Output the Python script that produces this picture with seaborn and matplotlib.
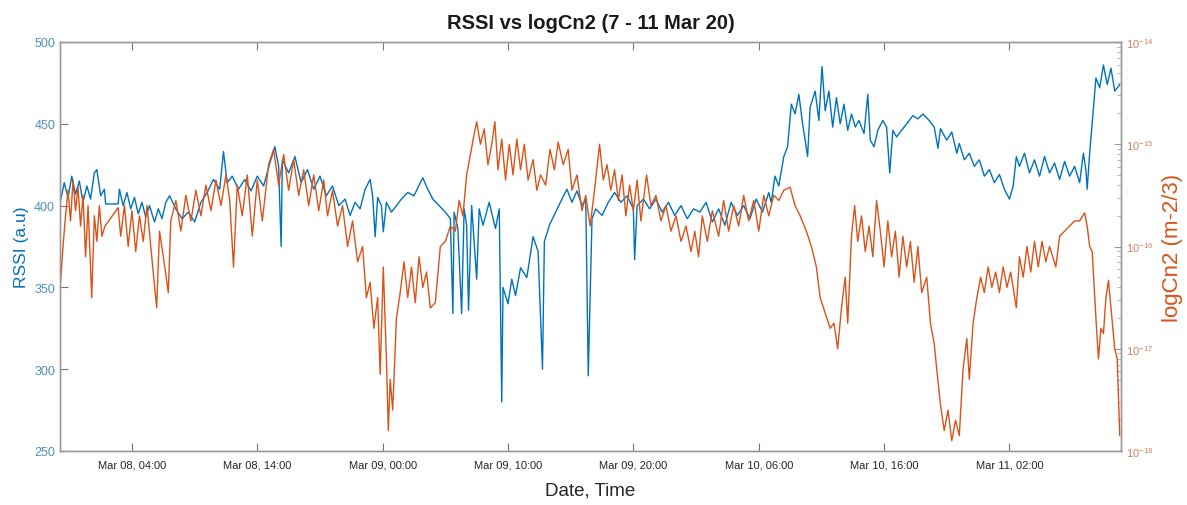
import matplotlib
matplotlib.use("Agg")
import matplotlib.pyplot as plt
from matplotlib.ticker import FixedLocator, NullFormatter
import numpy as np
import pandas as pd
import seaborn as sns

# ---------------------------------------------------------------------------
# Data: hours after 2020-03-08 00:00 and the measured values
# ---------------------------------------------------------------------------
rssi_samples = [
    (-1.7, 403), (-1.4, 414), (-1.1, 405), (-0.8, 418), (-0.5, 407), (-0.2, 415),
    (0.1, 402), (0.4, 412), (0.7, 404), (1.0, 420), (1.2, 422), (1.5, 406),
    (1.8, 410), (1.9, 401), (2.9, 401), (3.0, 410), (3.3, 400), (3.6, 408),
    (3.9, 398), (4.2, 405), (4.5, 395), (4.8, 402), (5.1, 393), (5.4, 400),
    (5.8, 390), (6.1, 398), (6.4, 392), (6.7, 402), (7.0, 406), (7.5, 398),
    (8.0, 392), (8.5, 396), (9.0, 390), (9.5, 402), (10.0, 408), (10.5, 416),
    (11.0, 410), (11.3, 433), (11.6, 414), (12.0, 418), (12.5, 410), (13.0, 416),
    (13.5, 409), (14.0, 418), (14.5, 412), (15.0, 426), (15.4, 436), (15.7, 424),
    (15.9, 375), (16.0, 428), (16.5, 420), (17.0, 430), (17.5, 414), (18.0, 422),
    (18.5, 410), (19.0, 418), (19.5, 406), (20.0, 412), (20.5, 400), (21.0, 404),
    (21.4, 394), (21.8, 402), (22.2, 398), (22.6, 410), (23.0, 416), (23.2, 406),
    (23.4, 381), (23.6, 405), (23.9, 400), (24.05, 384), (24.3, 402), (24.7, 396),
    (25.1, 400), (25.5, 404), (26.0, 408), (26.5, 406), (27.0, 414), (27.2, 417),
    (27.6, 410), (28.0, 404), (28.5, 400), (29.0, 396), (29.4, 392), (29.6, 334),
    (29.7, 396), (30.0, 386), (30.3, 334), (30.5, 398), (30.7, 388), (30.85, 336),
    (31.1, 400), (31.5, 355), (31.7, 398), (32.0, 388), (32.5, 402), (33.0, 386),
    (33.3, 398), (33.5, 280), (33.6, 350), (34.0, 340), (34.3, 355), (34.6, 345),
    (35.0, 362), (35.5, 356), (36.0, 381), (36.4, 372), (36.75, 300), (36.9, 378),
    (37.3, 388), (37.8, 396), (38.3, 404), (38.7, 410), (39.1, 402), (39.5, 409),
    (39.9, 400), (40.2, 404), (40.4, 296), (40.7, 392), (41.0, 398), (41.5, 394),
    (42.0, 402), (42.5, 408), (43.0, 402), (43.5, 406), (44.0, 398), (44.1, 367),
    (44.3, 400), (44.8, 404), (45.3, 398), (45.8, 404), (46.3, 396), (46.8, 402),
    (47.3, 394), (47.8, 400), (48.3, 392), (48.8, 398), (49.3, 396), (49.8, 402),
    (50.3, 390), (50.8, 398), (51.3, 388), (51.8, 402), (52.3, 394), (52.8, 400),
    (53.3, 392), (53.8, 404), (54.3, 396), (54.8, 408), (55.0, 402), (55.3, 418),
    (55.6, 412), (56.0, 430), (56.3, 436), (56.6, 462), (56.9, 456), (57.2, 468),
    (57.5, 450), (57.9, 430), (58.1, 460), (58.5, 470), (58.8, 452), (59.05, 485),
    (59.3, 458), (59.6, 470), (59.9, 448), (60.2, 466), (60.5, 450), (60.8, 462),
    (61.1, 446), (61.4, 456), (61.7, 448), (62.0, 452), (62.4, 444), (62.7, 468),
    (62.9, 440), (63.2, 436), (63.5, 446), (63.9, 452), (64.2, 448), (64.45, 420),
    (64.7, 446), (65.0, 442), (65.4, 446), (65.8, 450), (66.3, 455), (66.7, 453),
    (67.1, 456), (67.6, 452), (68.0, 448), (68.3, 435), (68.5, 447), (69.0, 440),
    (69.4, 445), (69.8, 432), (70.0, 438), (70.4, 428), (70.8, 432), (71.2, 424),
    (71.6, 428), (72.0, 418), (72.4, 422), (72.8, 414), (73.2, 419), (73.6, 410),
    (74.0, 404), (74.3, 412), (74.55, 430), (74.8, 424), (75.2, 432), (75.6, 420),
    (76.0, 428), (76.4, 418), (76.8, 430), (77.2, 420), (77.6, 426), (78.0, 416),
    (78.4, 427), (78.8, 418), (79.2, 424), (79.6, 414), (79.9, 432), (80.1, 422),
    (80.2, 410), (80.4, 432), (80.7, 460), (80.9, 478), (81.2, 472), (81.5, 486),
    (81.8, 474), (82.1, 484), (82.4, 470), (82.8, 474),
]

# Cn2 stored as log10 of m^-2/3
cn2_samples = [
    (-1.7, -16.35), (-1.5, -16.0), (-1.3, -15.7), (-1.1, -15.45), (-0.9, -15.75),
    (-0.7, -15.35), (-0.5, -15.65), (-0.3, -15.42), (-0.1, -15.8), (0.1, -15.5),
    (0.3, -16.1), (0.5, -15.6), (0.79, -16.5), (1.0, -15.7), (1.2, -15.95),
    (1.4, -15.6), (1.6, -15.9), (1.85, -15.8), (2.9, -15.62), (3.1, -15.9),
    (3.4, -15.6), (3.7, -16.0), (4.0, -15.65), (4.3, -16.05), (4.6, -15.7),
    (4.9, -15.95), (5.2, -15.6), (5.5, -16.0), (5.97, -16.6), (6.2, -15.85),
    (6.5, -16.1), (6.9, -16.45), (7.1, -15.75), (7.5, -15.55), (7.9, -15.85),
    (8.3, -15.5), (8.7, -15.75), (9.1, -15.45), (9.5, -15.7), (9.9, -15.4),
    (10.3, -15.65), (10.7, -15.35), (11.1, -15.6), (11.5, -15.3), (11.8, -15.55),
    (12.1, -16.2), (12.4, -15.4), (12.8, -15.7), (13.2, -15.3), (13.6, -15.9),
    (14.0, -15.35), (14.4, -15.75), (14.9, -15.2), (15.3, -15.05), (15.7, -15.4),
    (16.1, -15.1), (16.5, -15.45), (16.9, -15.15), (17.3, -15.5), (17.7, -15.25),
    (18.1, -15.6), (18.5, -15.3), (18.9, -15.65), (19.3, -15.35), (19.6, -15.7),
    (20.0, -15.45), (20.4, -15.8), (20.8, -15.6), (21.2, -16.0), (21.6, -15.75),
    (22.0, -16.15), (22.4, -16.0), (22.7, -16.5), (23.0, -16.35), (23.3, -16.8),
    (23.6, -16.5), (23.8, -17.25), (24.05, -16.2), (24.3, -17.1), (24.45, -17.8),
    (24.6, -17.3), (24.8, -17.6), (25.1, -16.7), (25.4, -16.45), (25.7, -16.15),
    (26.0, -16.5), (26.3, -16.2), (26.6, -16.55), (26.9, -16.1), (27.2, -16.4),
    (27.5, -16.25), (27.8, -16.6), (28.2, -16.55), (28.6, -16.0), (29.0, -15.95),
    (29.4, -15.8), (29.8, -15.85), (30.1, -15.55), (30.4, -15.7), (30.7, -15.3),
    (31.0, -15.1), (31.3, -14.9), (31.5, -14.78), (31.8, -15.0), (32.1, -14.85),
    (32.4, -15.2), (32.7, -15.0), (32.95, -14.78), (33.2, -15.25), (33.5, -14.95),
    (33.8, -15.35), (34.1, -15.0), (34.4, -15.3), (34.7, -14.95), (35.0, -15.25),
    (35.3, -15.0), (35.6, -15.35), (36.0, -15.15), (36.3, -15.45), (36.6, -15.3),
    (37.0, -15.4), (37.35, -15.05), (37.7, -15.25), (38.0, -14.98), (38.4, -15.2),
    (38.8, -15.05), (39.1, -15.45), (39.5, -15.3), (39.9, -15.65), (40.2, -15.5),
    (40.55, -15.8), (40.9, -15.45), (41.3, -15.0), (41.6, -15.35), (41.9, -15.2),
    (42.2, -15.45), (42.5, -15.25), (42.8, -15.55), (43.1, -15.3), (43.4, -15.7),
    (43.7, -15.4), (44.0, -15.65), (44.3, -15.35), (44.6, -15.75), (45.05, -15.3),
    (45.4, -15.6), (45.8, -15.5), (46.2, -15.75), (46.6, -15.6), (47.0, -15.85),
    (47.4, -15.7), (47.8, -15.95), (48.2, -15.8), (48.6, -16.05), (48.9, -15.85),
    (49.2, -16.1), (49.5, -15.7), (49.9, -15.95), (50.3, -15.65), (50.8, -15.9),
    (51.2, -15.55), (51.6, -15.85), (52.0, -15.6), (52.4, -15.8), (52.8, -15.5),
    (53.2, -15.75), (53.6, -15.55), (54.0, -15.85), (54.4, -15.5), (54.8, -15.7),
    (55.2, -15.5), (55.6, -15.55), (56.0, -15.45), (56.5, -15.42), (56.9, -15.6),
    (57.3, -15.7), (57.8, -15.85), (58.2, -16.0), (58.6, -16.2), (58.9, -16.5),
    (59.3, -16.65), (59.7, -16.8), (60.0, -16.75), (60.3, -17.0), (60.6, -16.6),
    (60.9, -16.3), (61.1, -16.75), (61.4, -15.9), (61.65, -15.6), (61.9, -15.95),
    (62.2, -15.7), (62.5, -16.05), (62.8, -15.8), (63.1, -16.1), (63.4, -15.55),
    (63.7, -15.85), (64.0, -16.2), (64.3, -15.75), (64.6, -16.1), (64.9, -15.85),
    (65.2, -16.3), (65.5, -15.9), (65.8, -16.2), (66.1, -15.95), (66.4, -16.35),
    (66.7, -16.0), (67.0, -16.45), (67.4, -16.3), (67.7, -16.75), (68.0, -16.95),
    (68.2, -17.2), (68.5, -17.55), (68.8, -17.8), (69.1, -17.6), (69.4, -17.9),
    (69.7, -17.7), (70.0, -17.85), (70.3, -17.2), (70.6, -16.9), (70.8, -17.3),
    (71.1, -16.75), (71.4, -16.5), (71.7, -16.3), (72.0, -16.45), (72.3, -16.2),
    (72.6, -16.4), (72.9, -16.25), (73.2, -16.45), (73.5, -16.2), (73.8, -16.4),
    (74.1, -16.25), (74.55, -16.6), (74.8, -16.1), (75.1, -16.3), (75.4, -16.0),
    (75.7, -16.25), (76.0, -15.95), (76.3, -16.2), (76.6, -15.95), (76.9, -16.15),
    (77.2, -16.0), (77.7, -16.2), (78.0, -15.9), (78.4, -15.85), (78.8, -15.8),
    (79.2, -15.75), (79.6, -15.75), (80.0, -15.67), (80.2, -15.8), (80.4, -16.0),
    (80.6, -16.05), (80.9, -16.7), (81.1, -17.1), (81.3, -16.8), (81.5, -16.85),
    (81.7, -16.5), (81.9, -16.33), (82.1, -16.6), (82.4, -17.0), (82.6, -17.1),
    (82.8, -17.85),
]

x_tick_times = ["2020-03-08 04:00", "2020-03-08 14:00", "2020-03-09 00:00",
                "2020-03-09 10:00", "2020-03-09 20:00", "2020-03-10 06:00",
                "2020-03-10 16:00", "2020-03-11 02:00"]
x_tick_labels = ["Mar 08, 04:00", "Mar 08, 14:00", "Mar 09, 00:00", "Mar 09, 10:00",
                 "Mar 09, 20:00", "Mar 10, 06:00", "Mar 10, 16:00", "Mar 11, 02:00"]
rssi_ticks = [250, 300, 350, 400, 450, 500]
cn2_exponents = [-18, -17, -16, -15, -14]

BASE = pd.Timestamp("2020-03-08 00:00")
BLUE = "#0072BD"
ORANGE = "#D95319"

rssi_df = pd.DataFrame(rssi_samples, columns=["hours", "rssi"])
rssi_df["time"] = BASE + pd.to_timedelta(rssi_df["hours"], unit="h")
cn2_df = pd.DataFrame(cn2_samples, columns=["hours", "log_cn2"])
cn2_df["time"] = BASE + pd.to_timedelta(cn2_df["hours"], unit="h")
cn2_df["cn2"] = 10.0 ** cn2_df["log_cn2"]

# ---------------------------------------------------------------------------
sns.set_style("white")
plt.rcParams["font.family"] = ["Liberation Sans", "DejaVu Sans"]
plt.rcParams["mathtext.fontset"] = "custom"
plt.rcParams["mathtext.rm"] = "Liberation Sans"
plt.rcParams["axes.unicode_minus"] = False

fig = plt.figure(figsize=(11.87, 5.06), dpi=100)
ax = fig.add_axes([60 / 1187, 1 - 452 / 506, (1121 - 60) / 1187, (452 - 43) / 506])
ax2 = ax.twinx()

sns.lineplot(data=rssi_df, x="time", y="rssi", ax=ax, color=BLUE, lw=1.0,
             estimator=None, sort=False)
sns.lineplot(data=cn2_df, x="time", y="cn2", ax=ax2, color=ORANGE, lw=1.0,
             estimator=None, sort=False)

ax.set_xlim(BASE + pd.Timedelta(hours=-1.74), BASE + pd.Timedelta(hours=82.9))
ax.set_ylim(250, 500)
ax2.set_yscale("log")
ax2.set_ylim(1e-18, 1e-14)

ax.set_xticks(pd.to_datetime(x_tick_times))
ax.set_xticklabels(x_tick_labels, fontsize=8, color="#262626")

ax.set_yticks(rssi_ticks)
ax.set_yticklabels([str(v) for v in rssi_ticks], fontsize=9, color="#4a90c0")

major = [10.0 ** e for e in cn2_exponents]
minor = [m * 10.0 ** e for e in cn2_exponents[:-1] for m in range(2, 10)]
ax2.yaxis.set_major_locator(FixedLocator(major))
ax2.yaxis.set_minor_locator(FixedLocator(minor))
ax2.yaxis.set_minor_formatter(NullFormatter())
ax2.set_yticklabels([f"$10^{{{e}}}$" for e in cn2_exponents], fontsize=8,
                    color="#d08060")
ax2.tick_params(axis="y", which="major", colors="#999999", labelcolor="#d08060",
                direction="in", length=5)
ax2.tick_params(axis="y", which="minor", colors="#aaaaaa", direction="in", length=3)

ax.tick_params(axis="x", direction="in", length=6, color="#777777", top=True,
               bottom=True, pad=6)
ax.tick_params(axis="y", direction="in", length=6, color="#777777", left=True)

for a in (ax, ax2):
    for sp in a.spines.values():
        sp.set_color("#999999")
        sp.set_linewidth(1.0)
    a.grid(False)

ax.set_ylabel("RSSI (a.u)", fontsize=12.5, color=BLUE, labelpad=4)
ax2.set_ylabel("logCn2 (m-2/3)", fontsize=16, color=ORANGE, labelpad=6)
ax.set_xlabel("Date, Time", fontsize=13.5, color="#262626", labelpad=9)
ax.set_title("RSSI vs logCn2 (7 - 11 Mar 20)", fontsize=14.5, fontweight="bold",
             color="#1a1a1a", pad=10)

fig.savefig("out.png", dpi=100, facecolor="white")
